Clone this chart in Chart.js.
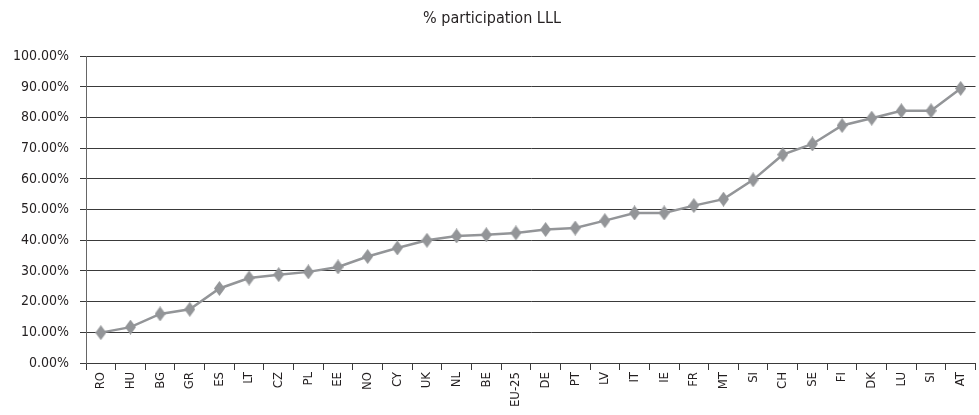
<!DOCTYPE html>
<html>
<head>
<meta charset="utf-8">
<script src="https://cdn.jsdelivr.net/npm/chart.js@4/dist/chart.umd.min.js"></script>
<style>
  html, body { margin: 0; padding: 0; background: #fff; overflow: hidden; width: 979px; height: 415px; }
  #wrap { position: relative; width: 984px; height: 430px; }
  canvas { display: block; }
</style>
</head>
<body>
<div id="wrap"><canvas id="c" width="984" height="430"></canvas></div>
<script>
// Share of population taking part in lifelong learning, by country (ascending)
const countries = ['RO','HU','BG','GR','ES','LT','CZ','PL','EE','NO','CY','UK','NL','BE','EU-25',
                   'DE','PT','LV','IT','IE','FR','MT','SI','CH','SE','FI','DK','LU','SI','AT'];
const participation = [9.9, 11.7, 16.0, 17.5, 24.3, 27.7, 28.8, 29.7, 31.3, 34.7, 37.5, 40.0, 41.4, 41.8, 42.4,
                       43.5, 44.0, 46.4, 48.9, 48.9, 51.3, 53.4, 59.7, 67.9, 71.4, 77.4, 79.8, 82.2, 82.2, 89.5];
const yMin = 0, yMax = 100, yStep = 10;
const chartTitle = '% participation LLL';

const FONT = "'Liberation Sans Narrow', 'DejaVu Sans Condensed', 'Arial Narrow', sans-serif";
const TEXT = '#231f20';
const LINE_GREY = '#939598';
const GRID = '#3a3a3a';

// tall diamond marker
function diamond(w, h, color) {
  const cv = document.createElement('canvas');
  cv.width = w; cv.height = h;
  const g = cv.getContext('2d');
  g.fillStyle = color;
  g.beginPath();
  g.moveTo(w / 2, 0);
  g.lineTo(w, h / 2);
  g.lineTo(w / 2, h);
  g.lineTo(0, h / 2);
  g.closePath();
  g.fill();
  return cv;
}
const marker = diamond(11, 15, LINE_GREY);

new Chart(document.getElementById('c'), {
  type: 'line',
  data: {
    labels: countries,
    datasets: [{
      data: participation,
      borderColor: LINE_GREY,
      borderWidth: 2.5,
      pointStyle: marker,
      pointRadius: 6,
      pointHoverRadius: 6,
      tension: 0,
      fill: false
    }]
  },
  options: {
    responsive: false,
    devicePixelRatio: 1,
    animation: false,
    layout: { padding: { left: 0, right: 0, top: 0, bottom: 0 } },
    plugins: {
      legend: { display: false },
      tooltip: { enabled: false },
      title: {
        display: true,
        text: chartTitle,
        color: TEXT,
        font: { family: FONT, size: 16, weight: 'normal' },
        padding: { top: 9, bottom: 28 }
      }
    },
    scales: {
      x: {
        offset: true,
        grid: {
          offset: true,
          drawOnChartArea: false,
          drawTicks: true,
          tickLength: 7,
          color: GRID
        },
        border: { display: true, color: GRID, width: 1 },
        ticks: {
          autoSkip: false,
          minRotation: 90,
          maxRotation: 90,
          padding: 2,
          color: TEXT,
          font: { family: FONT, size: 13 }
        },
        afterFit(scale) { scale.height = 67; }
      },
      y: {
        min: yMin,
        max: yMax,
        grid: {
          color: GRID,
          lineWidth: 1,
          drawTicks: true,
          tickLength: 6
        },
        border: { display: true, color: '#666', width: 1 },
        ticks: {
          stepSize: yStep,
          padding: 11,
          color: TEXT,
          font: { family: FONT, size: 14 },
          callback: v => v.toFixed(2) + '%'
        },
        afterFit(scale) { scale.width = 86; }
      }
    }
  }
});
</script>
</body>
</html>
